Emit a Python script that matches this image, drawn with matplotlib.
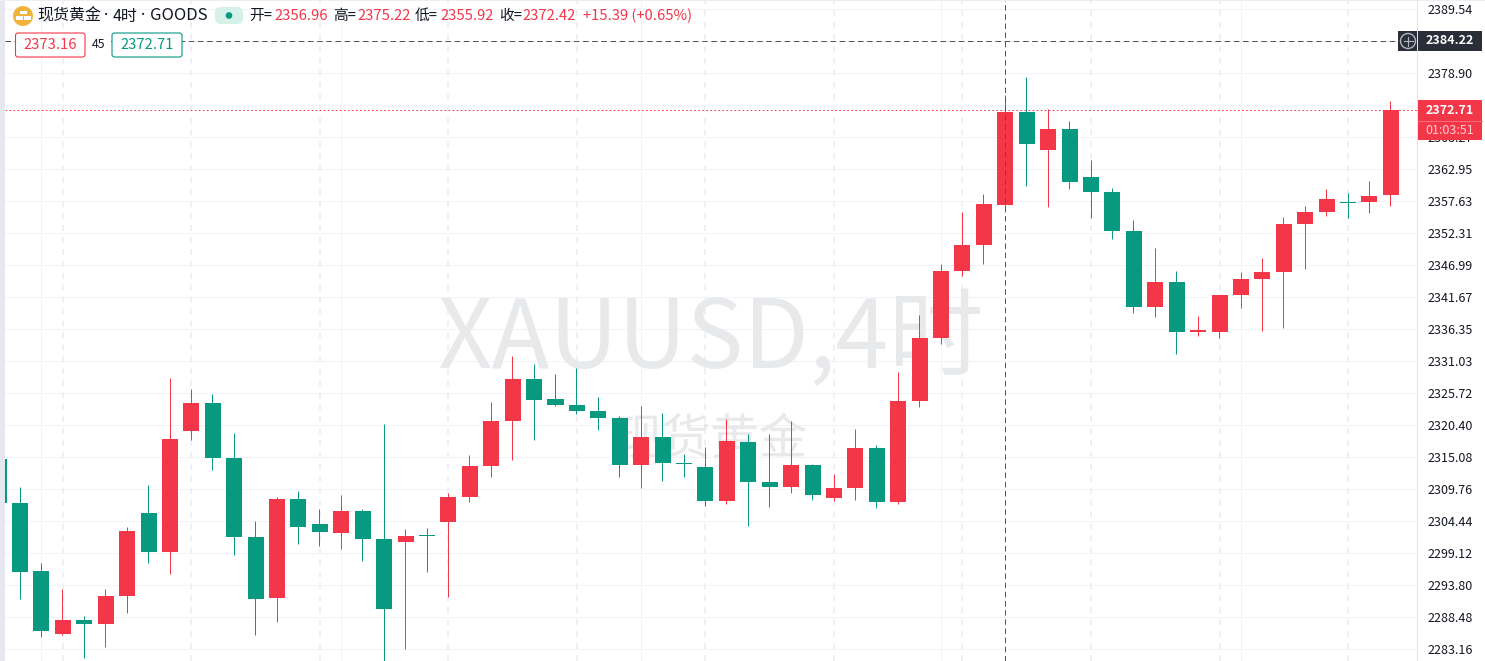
import matplotlib
matplotlib.use("Agg")
import matplotlib.pyplot as plt
from matplotlib.patches import Circle, FancyBboxPatch, Rectangle

plt.rcParams['font.family'] = ['Noto Sans CJK SC', 'DejaVu Sans']
plt.rcParams['lines.scale_dashes'] = False

# candle values, first (partly hidden) bar has index -1
opens = [2314.74,2307.43,2296.13,2285.66,2287.98,2287.32,2291.97,2305.77,2299.29,2319.40,2324.05,2314.91,2301.78,2291.64,2308.10,2303.94,2302.44,2306.10,2301.45,2300.95,2302.11,2304.27,2308.43,2313.58,2321.06,2328.04,2324.72,2323.72,2322.72,2321.56,2313.75,2318.40,2314.08,2313.42,2307.76,2317.57,2310.92,2310.09,2313.75,2308.26,2309.92,2316.57,2307.60,2324.39,2334.86,2345.99,2350.32,2356.96,2372.42,2366.11,2369.60,2361.62,2359.13,2352.64,2340.01,2344.17,2335.85,2335.85,2342.01,2344.66,2345.83,2353.81,2355.80,2357.46,2357.46,2358.63]
highs = [2314.91,2310.09,2297.46,2293.14,2288.65,2293.14,2303.44,2310.42,2328.21,2326.38,2325.55,2319.07,2304.44,2308.43,2309.43,2306.43,2308.76,2306.43,2320.56,2303.11,2303.28,2309.09,2315.41,2324.22,2331.87,2330.54,2328.87,2329.87,2325.05,2321.89,2323.55,2322.39,2315.58,2316.74,2321.39,2318.90,2318.90,2321.06,2313.91,2312.25,2319.73,2317.07,2329.21,2338.68,2347.16,2355.80,2358.79,2375.22,2378.24,2372.92,2370.93,2364.44,2359.79,2354.47,2349.82,2345.99,2338.51,2342.01,2345.83,2348.16,2354.97,2356.80,2359.62,2358.96,2360.95,2374.25]
lows = [2307.43,2291.47,2285.16,2285.49,2281.67,2283.50,2289.15,2297.46,2295.63,2317.90,2312.92,2298.79,2285.49,2287.65,2300.62,2300.28,2299.79,2297.79,2281.00,2283.16,2295.96,2291.81,2307.60,2311.75,2314.58,2317.90,2323.55,2322.22,2319.57,2311.75,2309.92,2311.09,2311.75,2306.93,2307.27,2303.61,2306.77,2309.09,2307.93,2307.76,2307.93,2306.60,2307.27,2323.39,2333.86,2345.16,2347.16,2355.92,2360.12,2356.63,2359.62,2354.80,2351.31,2339.01,2338.35,2332.20,2335.19,2334.86,2339.84,2336.02,2336.52,2346.33,2355.14,2354.80,2355.64,2356.80]
closes = [2307.43,2295.96,2286.16,2287.98,2287.32,2291.97,2302.78,2299.29,2318.07,2324.05,2314.91,2301.78,2291.47,2308.10,2303.44,2302.61,2306.10,2301.45,2289.81,2301.95,2301.95,2308.43,2313.58,2321.06,2328.04,2324.55,2323.72,2322.72,2321.56,2313.75,2318.40,2314.08,2313.91,2307.76,2317.74,2310.92,2310.09,2313.75,2308.76,2309.92,2316.57,2307.60,2324.39,2334.86,2345.99,2350.32,2357.13,2372.42,2367.10,2369.60,2360.79,2359.13,2352.64,2340.01,2344.17,2335.85,2336.19,2342.01,2344.66,2345.83,2353.81,2355.80,2357.96,2357.30,2358.46,2372.71]
first_index = -1

price_ticks = [2389.54,2384.22,2378.90,2373.58,2368.27,2362.95,2357.63,2352.31,2346.99,2341.67,2336.35,2331.03,2325.72,2320.40,2315.08,2309.76,2304.44,2299.12,2293.80,2288.48,2283.16]
solid_grid = [1,15,29,43,57]
dashed_grid = [2,8,14,20,26,32,38,44,50,56,62]
cross_index = 46
cross_price = 2384.22
last_price = 2372.71

title_parts = [("现货黄金",37,11.5,'Noto Sans CJK SC'),("·",104,11.5,'Noto Sans'),("4时",113,11.5,'Noto Sans CJK SC'),("·",141,11.5,'Noto Sans'),("GOODS",150,12,'Noto Sans CJK SC')]
legend_parts = [("开=",249,0),("2356.96",274,1),("高=",333,0),("2375.22",357,1),("低=",415,0),("2355.92",440,1),("收=",499,0),("2372.42",522,1),("+15.39 (+0.65%)",583,1)]

RED = "#f43649"
GREEN = "#089981"
INK = "#131722"
W, H = 1485, 661
fig = plt.figure(figsize=(W/100, H/100), dpi=100, facecolor="white")
L, R = 5, 1417
ax = fig.add_axes([L/W, 0, (R-L)/W, 1])
ax.set_xlim((L-20)/21.42, (R-20)/21.42)
ax.set_ylim(2281.17, 2391.04)
ax.set_facecolor("white")
for s in ax.spines.values():
    s.set_visible(False)
ax.set_xticks([])
ax.yaxis.tick_right()
ax.set_yticks(price_ticks)
ax.set_yticklabels([f"{t:.2f}" for t in price_ticks], color=INK, fontsize=9)
ax.tick_params(axis='y', length=0, pad=7.5)
for t in price_ticks:
    ax.axhline(t, color="#f1f3f8", lw=0.72, zorder=1)
for i in solid_grid:
    ax.axvline(i, color="#f1f3f8", lw=0.72, zorder=1)
for i in dashed_grid:
    ax.axvline(i, color="#eff0f5", lw=1.44, ls=(0, (4.3, 4.3)), zorder=1)

# watermark
ax.text(0.5, 1-341/H, "XAUUSD,4时", transform=ax.transAxes, ha='center', va='center',
        fontsize=68.5, color="#e8e9eb", zorder=2)
ax.text(0.5, 1-440/H, "现货黄金", transform=ax.transAxes, ha='center', va='center',
        fontsize=35, color="#e8e9eb", zorder=2)

# candles
idx = list(range(first_index, first_index+len(opens)))
for i, o, h, l, c in zip(idx, opens, highs, lows, closes):
    col = RED if c >= o else GREEN
    if i in (19, 31, 62):
        col = GREEN
    ax.vlines(i-0.02, l, h, color=col, lw=0.72, zorder=3, snap=True)
    top, bot = max(o, c), min(o, c)
    ax.bar(i, max(top-bot, 0.17), bottom=bot, width=0.747, color=col, lw=0, zorder=4, antialiased=False)

# crosshair and last price lines
ax.axvline(cross_index, color="#50535e", lw=0.72, ls=(0, (4, 2.6)), zorder=5)
ax.axhline(cross_price, color="#50535e", lw=0.72, ls=(0, (4, 2.6)), zorder=5)
ax.axhline(last_price, color=RED, lw=0.72, ls=(0, (1.2, 1.7)), zorder=5)

# pixel overlay for interface pieces
ov = fig.add_axes([0, 0, 1, 1], zorder=10)
ov.set_xlim(0, W); ov.set_ylim(H, 0); ov.axis('off'); ov.patch.set_alpha(0)
ov.add_patch(Rectangle((0, 0), 4.5, H, color="#e6e7ef", lw=0))
ov.add_patch(Rectangle((0, 0), W, 1.2, color="#eceef3", lw=0))
ov.add_patch(Rectangle((1416.5, 0), 1.2, H, color="#e0e3eb", lw=0))

# gold icon
ov.add_patch(Circle((23, 16), 10, color="#f0b43c", lw=0))
ov.add_patch(Rectangle((19.5, 10.5), 7, 3.6, color="white", lw=0))
ov.add_patch(Rectangle((15.5, 16), 7, 3.6, color="white", lw=0))
ov.add_patch(Rectangle((23.5, 16), 7, 3.6, color="white", lw=0))

for s, x, fs, fam in title_parts:
    ov.text(x, 16, s, fontsize=fs, color=INK, va='center', ha='left', family=fam)
ov.add_patch(FancyBboxPatch((215, 7), 28, 17, boxstyle="round,pad=0,rounding_size=6", color="#d6f0ea", lw=0))
ov.add_patch(Circle((229, 15.5), 3.3, color=GREEN, lw=0))
for s, x, red in legend_parts:
    ov.text(x, 16, s, fontsize=10.6, color=RED if red else INK, va='center', ha='left')

# bid/ask boxes
ov.add_patch(Rectangle((88, 33), 23, 24, color="white", lw=0))
ov.text(99, 45, "45", fontsize=8.8, color=INK, ha='center', va='center')
for x0, x1, s, col in [(15.5, 85, "2373.16", RED), (112, 182, "2372.71", GREEN)]:
    ov.add_patch(FancyBboxPatch((x0, 33), x1-x0, 24, boxstyle="round,pad=0,rounding_size=2.5", fc="white", ec=col, lw=0.8))
    ov.text((x0+x1)/2, 45, s, fontsize=10.6, color=col, ha='center', va='center')

# crosshair price label
ov.add_patch(Rectangle((1398, 31), 84, 20, color="#2a2e39", lw=0))
ov.add_patch(Circle((1408, 41), 7.5, fc="none", ec="#b2b5be", lw=1))
ov.plot([1403.5, 1412.5], [41, 41], color="#b2b5be", lw=0.8)
ov.plot([1408, 1408], [36.5, 45.5], color="#b2b5be", lw=0.8)
ov.add_patch(Rectangle((1416.5, 31), 1.2, 20, color="#e0e3eb", lw=0))
ov.text(1450, 41, "2384.22", fontsize=9, color="white", fontweight='bold', ha='center', va='center')

# last price label
ov.add_patch(Rectangle((1418, 100), 64, 40, color=RED, lw=0))
ov.plot([1418, 1482], [120.5, 120.5], color="#f7707e", lw=0.7)
ov.text(1450, 110, "2372.71", fontsize=9, color="white", fontweight='bold', ha='center', va='center')
ov.text(1450, 130, "01:03:51", fontsize=9, color="#fcd0d4", ha='center', va='center')

fig.savefig("out.png", dpi=100, facecolor="white")
